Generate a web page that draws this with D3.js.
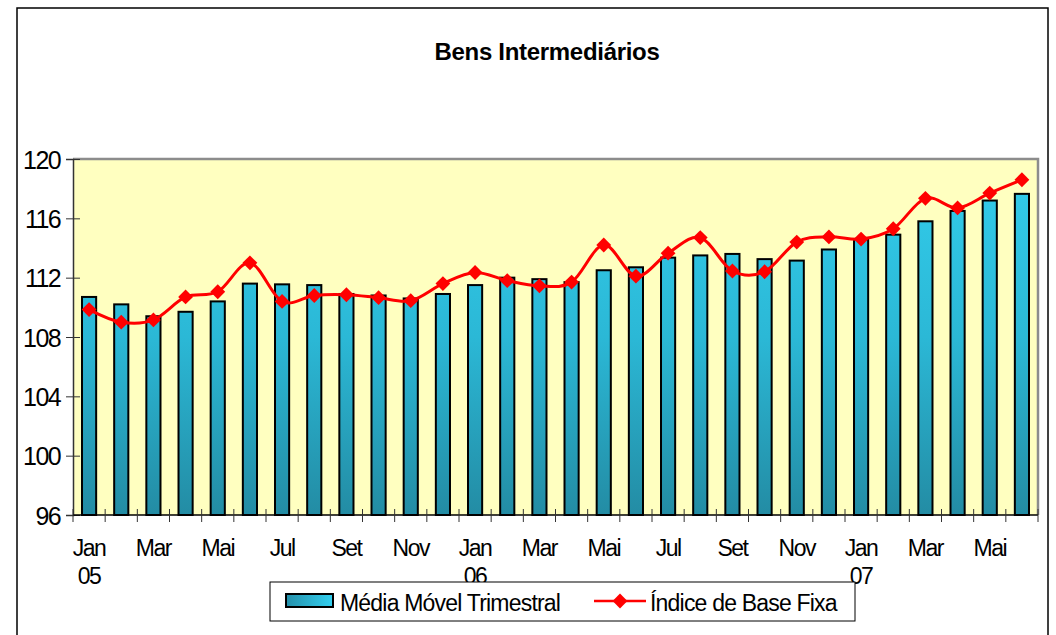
<!DOCTYPE html>
<html>
<head>
<meta charset="utf-8">
<script src="https://cdn.jsdelivr.net/npm/d3@7"></script>
<style>
  body { margin: 0; background: #fff; }
  text { font-family: "Liberation Sans", Arial, sans-serif; fill: #000; }
</style>
</head>
<body>
<svg id="chart" width="1056" height="635"></svg>
<script>
// data (Jan 05 .. Jun 07)
const months = ["Jan","Fev","Mar","Abr","Mai","Jun","Jul","Ago","Set","Out","Nov","Dez"];
const years = ["05","06","07"];
const mediaMovel = [110.7, 110.2, 109.4, 109.7, 110.4, 111.6, 111.55, 111.5, 110.9, 110.8, 110.6, 110.9,
  111.5, 112.0, 111.9, 111.7, 112.5, 112.7, 113.35, 113.5, 113.6, 113.25, 113.15, 113.9,
  114.6, 114.9, 115.8, 116.5, 117.2, 117.65];
const indiceBase = [109.85, 109.0, 109.15, 110.7, 111.05, 113.0, 110.4, 110.8, 110.85, 110.65, 110.45, 111.6,
  112.35, 111.8, 111.45, 111.7, 114.2, 112.1, 113.65, 114.7, 112.45, 112.4, 114.4, 114.75,
  114.6, 115.3, 117.35, 116.7, 117.7, 118.6];
const yTicks = [96, 100, 104, 108, 112, 116, 120];

const svg = d3.select("#chart");
const plot = {left: 73, top: 159, right: 1038, bottom: 515};

const idx = d3.range(mediaMovel.length);
const x = d3.scaleBand().domain(idx).range([plot.left, plot.right]).paddingInner(0.56).paddingOuter(0.28);
const step = (plot.right - plot.left) / idx.length;
const y = d3.scaleLinear().domain([96, 120]).range([plot.bottom, plot.top]);

const defs = svg.append("defs");
const grad = defs.append("linearGradient").attr("id", "barGrad")
  .attr("gradientUnits", "userSpaceOnUse")
  .attr("x1", 0).attr("y1", plot.top).attr("x2", 0).attr("y2", plot.bottom);
grad.append("stop").attr("offset", "0%").attr("stop-color", "#33cdec");
grad.append("stop").attr("offset", "50%").attr("stop-color", "#2bb8d6");
grad.append("stop").attr("offset", "100%").attr("stop-color", "#238ca4");

const grad2 = defs.append("linearGradient").attr("id", "legGrad")
  .attr("x1", 0).attr("y1", 0).attr("x2", 1).attr("y2", 0);
grad2.append("stop").attr("offset", "0%").attr("stop-color", "#2590aa");
grad2.append("stop").attr("offset", "100%").attr("stop-color", "#33d0f0");

// outer frame
svg.append("rect").attr("x", 17).attr("y", 8).attr("width", 1031).attr("height", 640)
  .attr("fill", "none").attr("stroke", "#000").attr("stroke-width", 1.5);

svg.append("text").attr("x", 547).attr("y", 60).attr("text-anchor", "middle")
  .style("font-size", "24px").style("font-weight", "bold").style("letter-spacing", "-0.3px")
  .text("Bens Intermediários");

// plot area
svg.append("rect").attr("x", plot.left).attr("y", plot.top)
  .attr("width", plot.right - plot.left).attr("height", plot.bottom - plot.top)
  .attr("fill", "#ffffc0");
svg.append("path")
  .attr("d", `M${plot.left},${plot.top}H${plot.right}V${plot.bottom}`)
  .attr("fill", "none").attr("stroke", "#8c8c8c").attr("stroke-width", 2.5);

// bars
svg.append("g").selectAll("rect")
  .data(mediaMovel)
  .enter()
  .append("rect")
  .attr("x", (d, i) => x(i))
  .attr("y", d => y(d))
  .attr("width", x.bandwidth())
  .attr("height", d => plot.bottom - y(d))
  .attr("fill", "url(#barGrad)")
  .attr("stroke", "#000")
  .attr("stroke-width", 2);

// y axis
const yAxis = svg.append("g").attr("transform", `translate(${plot.left},0)`)
  .call(d3.axisLeft(y).tickValues(yTicks).tickSize(7).tickPadding(6));
yAxis.select(".domain").attr("stroke", "#333").attr("stroke-width", 1.5);
yAxis.selectAll(".tick line").attr("x1", 7).attr("stroke", "#333");
yAxis.selectAll(".tick text").style("font-size", "25px").style("letter-spacing", "-1.6px")
  .attr("font-family", null).attr("dy", "0.36em");

// x axis
const xg = svg.append("g");
xg.append("line").attr("x1", plot.left).attr("x2", plot.right)
  .attr("y1", plot.bottom).attr("y2", plot.bottom).attr("stroke", "#000").attr("stroke-width", 1.5);
xg.selectAll(".xt").data(d3.range(idx.length + 1)).enter().append("line")
  .attr("x1", d => plot.left + d * step).attr("x2", d => plot.left + d * step)
  .attr("y1", plot.bottom - 6).attr("y2", plot.bottom + 7)
  .attr("stroke", "#333");
const labIdx = idx.filter(i => i % 2 === 0);
xg.selectAll(".xl").data(labIdx).enter().append("text")
  .attr("x", d => x(d) + x.bandwidth() / 2).attr("y", 556)
  .attr("text-anchor", "middle").style("font-size", "23px").style("letter-spacing", "-1.5px")
  .text(d => months[d % 12]);
xg.selectAll(".yl").data(idx.filter(i => i % 12 === 0)).enter().append("text")
  .attr("x", d => x(d) + x.bandwidth() / 2).attr("y", 584)
  .attr("text-anchor", "middle").style("font-size", "23px").style("letter-spacing", "-1.5px")
  .text(d => years[d / 12]);

// line + markers
const line = d3.line()
  .x((d, i) => x(i) + x.bandwidth() / 2)
  .y(d => y(d))
  .curve(d3.curveCardinal.tension(0));
svg.append("path").datum(indiceBase).attr("d", line)
  .attr("fill", "none").attr("stroke", "#ff0000").attr("stroke-width", 3);
const diamond = d3.symbol().type(d3.symbolSquare).size(110);
svg.append("g").selectAll("path")
  .data(indiceBase)
  .enter()
  .append("path")
  .attr("d", diamond)
  .attr("transform", (d, i) => `translate(${x(i) + x.bandwidth() / 2},${y(d)}) rotate(45)`)
  .attr("fill", "#ff0000");

// legend
const leg = svg.append("g");
leg.append("rect").attr("x", 270).attr("y", 582).attr("width", 585).attr("height", 39)
  .attr("fill", "#fff").attr("stroke", "#000").attr("stroke-width", 1);
leg.append("rect").attr("x", 286).attr("y", 594).attr("width", 47).attr("height", 13)
  .attr("fill", "url(#legGrad)").attr("stroke", "#000").attr("stroke-width", 2);
leg.append("text").attr("x", 340).attr("y", 611).style("font-size", "23px").style("letter-spacing", "-0.8px")
  .text("Média Móvel Trimestral");
leg.append("line").attr("x1", 594).attr("x2", 646).attr("y1", 601).attr("y2", 601)
  .attr("stroke", "#ff0000").attr("stroke-width", 2.5);
leg.append("path").attr("d", diamond).attr("transform", "translate(620,601) rotate(45)")
  .attr("fill", "#ff0000");
leg.append("text").attr("x", 650).attr("y", 611).style("font-size", "23px").style("letter-spacing", "-0.8px")
  .text("Índice de Base Fixa");
</script>
</body>
</html>
